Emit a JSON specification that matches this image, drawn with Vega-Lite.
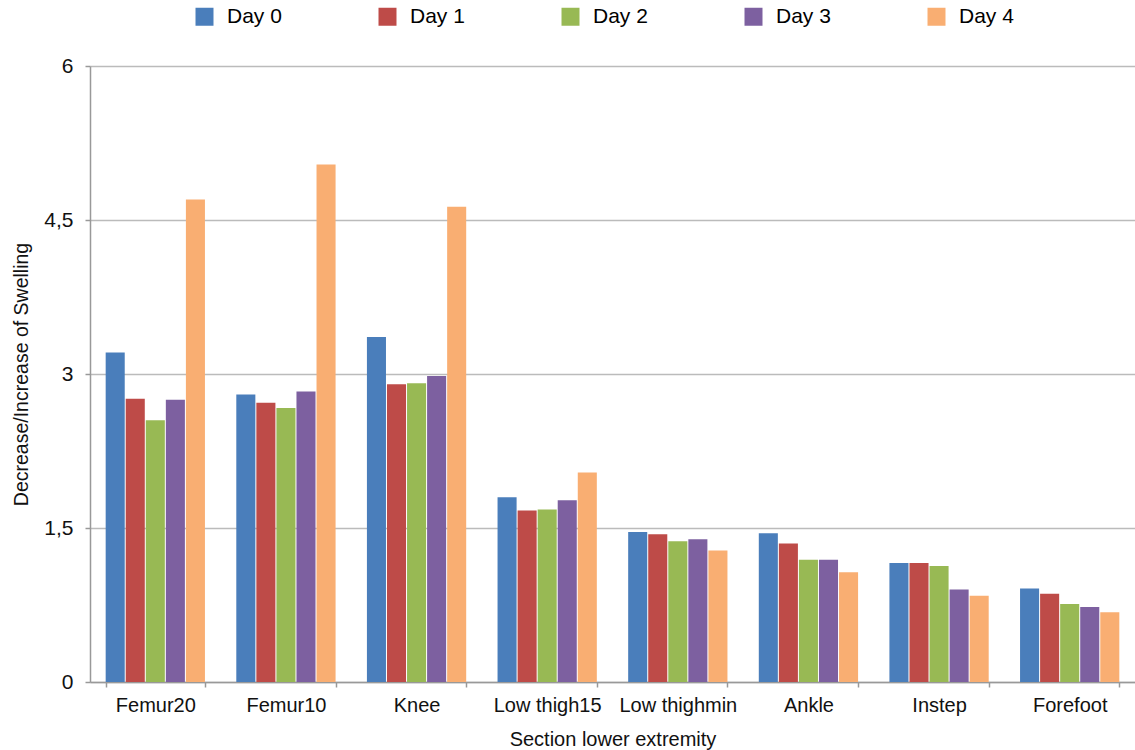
{
  "$schema": "https://vega.github.io/schema/vega-lite/v6.json",
  "width": 1045,
  "height": 616,
  "autosize": "none",
  "padding": {"left": 90, "top": 66, "right": 0, "bottom": 68},
  "background": "white",
  "config": {
    "font": "Liberation Sans",
    "view": {"stroke": null},
    "axis": {"labelFont": "Liberation Sans", "titleFont": "Liberation Sans", "labelColor": "#111", "titleColor": "#111", "titleFontWeight": "normal"}
  },
  "data": {"values": [
    {"section": "Femur20", "day": "Day 0", "value": 3.21},
    {"section": "Femur20", "day": "Day 1", "value": 2.76},
    {"section": "Femur20", "day": "Day 2", "value": 2.55},
    {"section": "Femur20", "day": "Day 3", "value": 2.75},
    {"section": "Femur20", "day": "Day 4", "value": 4.70},
    {"section": "Femur10", "day": "Day 0", "value": 2.80},
    {"section": "Femur10", "day": "Day 1", "value": 2.72},
    {"section": "Femur10", "day": "Day 2", "value": 2.67},
    {"section": "Femur10", "day": "Day 3", "value": 2.83},
    {"section": "Femur10", "day": "Day 4", "value": 5.04},
    {"section": "Knee", "day": "Day 0", "value": 3.36},
    {"section": "Knee", "day": "Day 1", "value": 2.90},
    {"section": "Knee", "day": "Day 2", "value": 2.91},
    {"section": "Knee", "day": "Day 3", "value": 2.98},
    {"section": "Knee", "day": "Day 4", "value": 4.63},
    {"section": "Low thigh15", "day": "Day 0", "value": 1.80},
    {"section": "Low thigh15", "day": "Day 1", "value": 1.67},
    {"section": "Low thigh15", "day": "Day 2", "value": 1.68},
    {"section": "Low thigh15", "day": "Day 3", "value": 1.77},
    {"section": "Low thigh15", "day": "Day 4", "value": 2.04},
    {"section": "Low thighmin", "day": "Day 0", "value": 1.46},
    {"section": "Low thighmin", "day": "Day 1", "value": 1.44},
    {"section": "Low thighmin", "day": "Day 2", "value": 1.37},
    {"section": "Low thighmin", "day": "Day 3", "value": 1.39},
    {"section": "Low thighmin", "day": "Day 4", "value": 1.28},
    {"section": "Ankle", "day": "Day 0", "value": 1.45},
    {"section": "Ankle", "day": "Day 1", "value": 1.35},
    {"section": "Ankle", "day": "Day 2", "value": 1.19},
    {"section": "Ankle", "day": "Day 3", "value": 1.19},
    {"section": "Ankle", "day": "Day 4", "value": 1.07},
    {"section": "Instep", "day": "Day 0", "value": 1.16},
    {"section": "Instep", "day": "Day 1", "value": 1.16},
    {"section": "Instep", "day": "Day 2", "value": 1.13},
    {"section": "Instep", "day": "Day 3", "value": 0.90},
    {"section": "Instep", "day": "Day 4", "value": 0.84},
    {"section": "Forefoot", "day": "Day 0", "value": 0.91},
    {"section": "Forefoot", "day": "Day 1", "value": 0.86},
    {"section": "Forefoot", "day": "Day 2", "value": 0.76},
    {"section": "Forefoot", "day": "Day 3", "value": 0.73},
    {"section": "Forefoot", "day": "Day 4", "value": 0.68}
  ]},
  "mark": {"type": "bar"},
  "encoding": {
    "x": {
      "field": "section", "type": "nominal", "sort": null,
      "scale": {"paddingInner": 0.24, "paddingOuter": 0.12},
      "axis": {
        "title": "Section lower extremity", "titleFontSize": 20, "titlePadding": 14,
        "labelAngle": 0, "labelFontSize": 20, "labelPadding": 8,
        "tickBand": "extent", "tickColor": "#999", "tickSize": 5, "tickWidth": 1.5,
        "domainColor": "#999", "domainWidth": 1.5
      }
    },
    "xOffset": {"field": "day", "type": "nominal", "scale": {"paddingInner": 0.05}},
    "y": {
      "field": "value", "type": "quantitative",
      "scale": {"domain": [0, 6]},
      "axis": {
        "title": "Decrease/Increase of Swelling", "titleFontSize": 19.5, "titlePadding": 12,
        "values": [0, 1.5, 3, 4.5, 6], "format": ".1~f", "labelExpr": "replace(datum.label, '.', ',')",
        "labelFontSize": 21, "labelPadding": 12,
        "grid": true, "gridColor": "#bbb", "gridWidth": 1.5,
        "tickColor": "#999", "tickSize": 5, "tickWidth": 1.5,
        "domainColor": "#999", "domainWidth": 1.5
      }
    },
    "color": {
      "field": "day", "type": "nominal",
      "scale": {"domain": ["Day 0", "Day 1", "Day 2", "Day 3", "Day 4"], "range": ["#4a7ebb", "#be4b48", "#98b954", "#7d60a0", "#f9ae72"]},
      "legend": {
        "title": null, "orient": "none", "direction": "horizontal",
        "legendX": 104, "legendY": -60,
        "symbolType": "square", "symbolSize": 324, "symbolStrokeWidth": 0,
        "labelFontSize": 21, "labelOffset": 12, "columnPadding": 95
      }
    }
  }
}
